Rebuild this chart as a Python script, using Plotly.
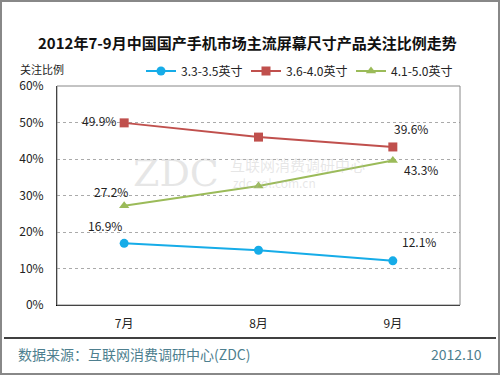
import plotly.graph_objects as go

months = ["7月", "8月", "9月"]
s_names = ["3.3-3.5英寸", "3.6-4.0英寸", "4.1-5.0英寸"]
s1 = [16.9, 15.0, 12.1]
s2 = [49.9, 46.0, 43.3]
s3 = [27.2, 32.6, 39.6]
colors = ["#16ACE8", "#C0504D", "#9BBB59"]
symbols = ["circle", "square", "triangle-up"]
y_ticks = [0, 10, 20, 30, 40, 50, 60]
y_tick_text = ["0%", "10%", "20%", "30%", "40%", "50%", "60%"]

# Data labels as shown in the reference: (text, month index, y anchor, x shift, y shift)
labels = [
    ("49.9%", 0, s2[0], -25, 2),
    ("27.2%", 0, s3[0], -13, 14),
    ("16.9%", 0, s1[0], -19, 18),
    ("39.6%", 2, s2[2], 18, 18),
    ("43.3%", 2, s3[2], 28, -9),
    ("12.1%", 2, s1[2], 26, 19),
]

FONT = "Noto Sans CJK SC"
L, T, W, H = 57, 86, 403, 219


def px(x):
    return (x - L) / W


def py(y):
    return (T + H - y) / H


fig = go.Figure()

# watermark
wm = "rgba(185,185,185,0.35)"
fig.add_annotation(text="ZDC", x=px(176), y=py(173), xref="paper", yref="paper",
                   xanchor="center", yanchor="middle",
                   showarrow=False, font=dict(family="DejaVu Serif", size=38, color=wm))
fig.add_annotation(text="互联网消费调研中心", x=px(297), y=py(164), xref="paper", yref="paper",
                   xanchor="center", yanchor="middle",
                   showarrow=False, font=dict(family=FONT, size=15, color=wm))
fig.add_annotation(text="zdc.zol.com.cn", x=px(274), y=py(182), xref="paper", yref="paper",
                   xanchor="center", yanchor="middle",
                   showarrow=False, font=dict(family=FONT, size=12, color=wm))

for vals, name, c, sym in zip([s1, s2, s3], s_names, colors, symbols):
    fig.add_trace(go.Scatter(x=months, y=vals, name=name, mode="lines+markers",
                             line=dict(color=c, width=2),
                             marker=dict(symbol=sym, size=9, color=c)))

for t, i, y, dx, dy in labels:
    fig.add_annotation(text=t, x=months[i], y=y, xshift=dx, yshift=dy, showarrow=False,
                       xanchor="center", yanchor="middle",
                       font=dict(family=FONT, size=12, color="#222"))

fig.add_annotation(text="<b>2012年7-9月中国国产手机市场主流屏幕尺寸产品关注比例走势</b>",
                   xref="paper", yref="paper", x=px(247), y=py(43),
                   xanchor="center", yanchor="middle", showarrow=False,
                   font=dict(family=FONT, size=15, color="#111"))
fig.add_annotation(text="关注比例", xref="paper", yref="paper", x=px(42), y=py(69),
                   xanchor="center", yanchor="middle",
                   showarrow=False, font=dict(family=FONT, size=11, color="#222"))
fig.add_annotation(text="数据来源：互联网消费调研中心(ZDC)", xref="paper", yref="paper",
                   x=px(16), y=py(354), xanchor="left", yanchor="middle", showarrow=False,
                   font=dict(family=FONT, size=14, color="#4E7F8F"))
fig.add_annotation(text="2012.10", xref="paper", yref="paper",
                   x=px(484), y=py(354), xanchor="right", yanchor="middle", showarrow=False,
                   font=dict(family=FONT, size=14, color="#4E7F8F"))

# plot border, footer line, outer frame
fig.add_shape(type="rect", xref="paper", yref="paper", x0=0, x1=1, y0=0, y1=1,
              line=dict(color="#888", width=1))
fig.add_shape(type="line", xref="paper", yref="paper", x0=px(4), x1=px(496),
              y0=py(338), y1=py(338), line=dict(color="#000", width=1.5))
fig.add_shape(type="rect", xref="paper", yref="paper", x0=px(1), x1=px(499),
              y0=py(374), y1=py(1), line=dict(color="#888", width=2))

fig.update_layout(
    width=500, height=375,
    margin=dict(l=L, r=500 - L - W, t=T, b=375 - T - H, autoexpand=False),
    paper_bgcolor="white", plot_bgcolor="white",
    font=dict(family=FONT, size=12, color="#222"),
    showlegend=True,
    legend=dict(orientation="h", x=px(141), y=py(71), xanchor="left", yanchor="middle",
                font=dict(family=FONT, size=12, color="#222"), bgcolor="rgba(0,0,0,0)",
                entrywidth=60, entrywidthmode="pixels", tracegroupgap=0),
    xaxis=dict(showgrid=False, showline=True, linecolor="#000", linewidth=1,
               ticks="", tickfont=dict(size=12), range=[-0.5, 2.5], ticklabelstandoff=8),
    yaxis=dict(range=[0, 60], tickvals=y_ticks, ticktext=y_tick_text,
               showgrid=True, gridcolor="#aaa", griddash="dot", gridwidth=1,
               showline=True, linecolor="#000", linewidth=1, zeroline=False,
               ticks="", tickfont=dict(size=12), ticklabelstandoff=10),
)

fig.write_html("out.html", config={"displayModeBar": False},
               post_script="document.body.style.margin='0';")
